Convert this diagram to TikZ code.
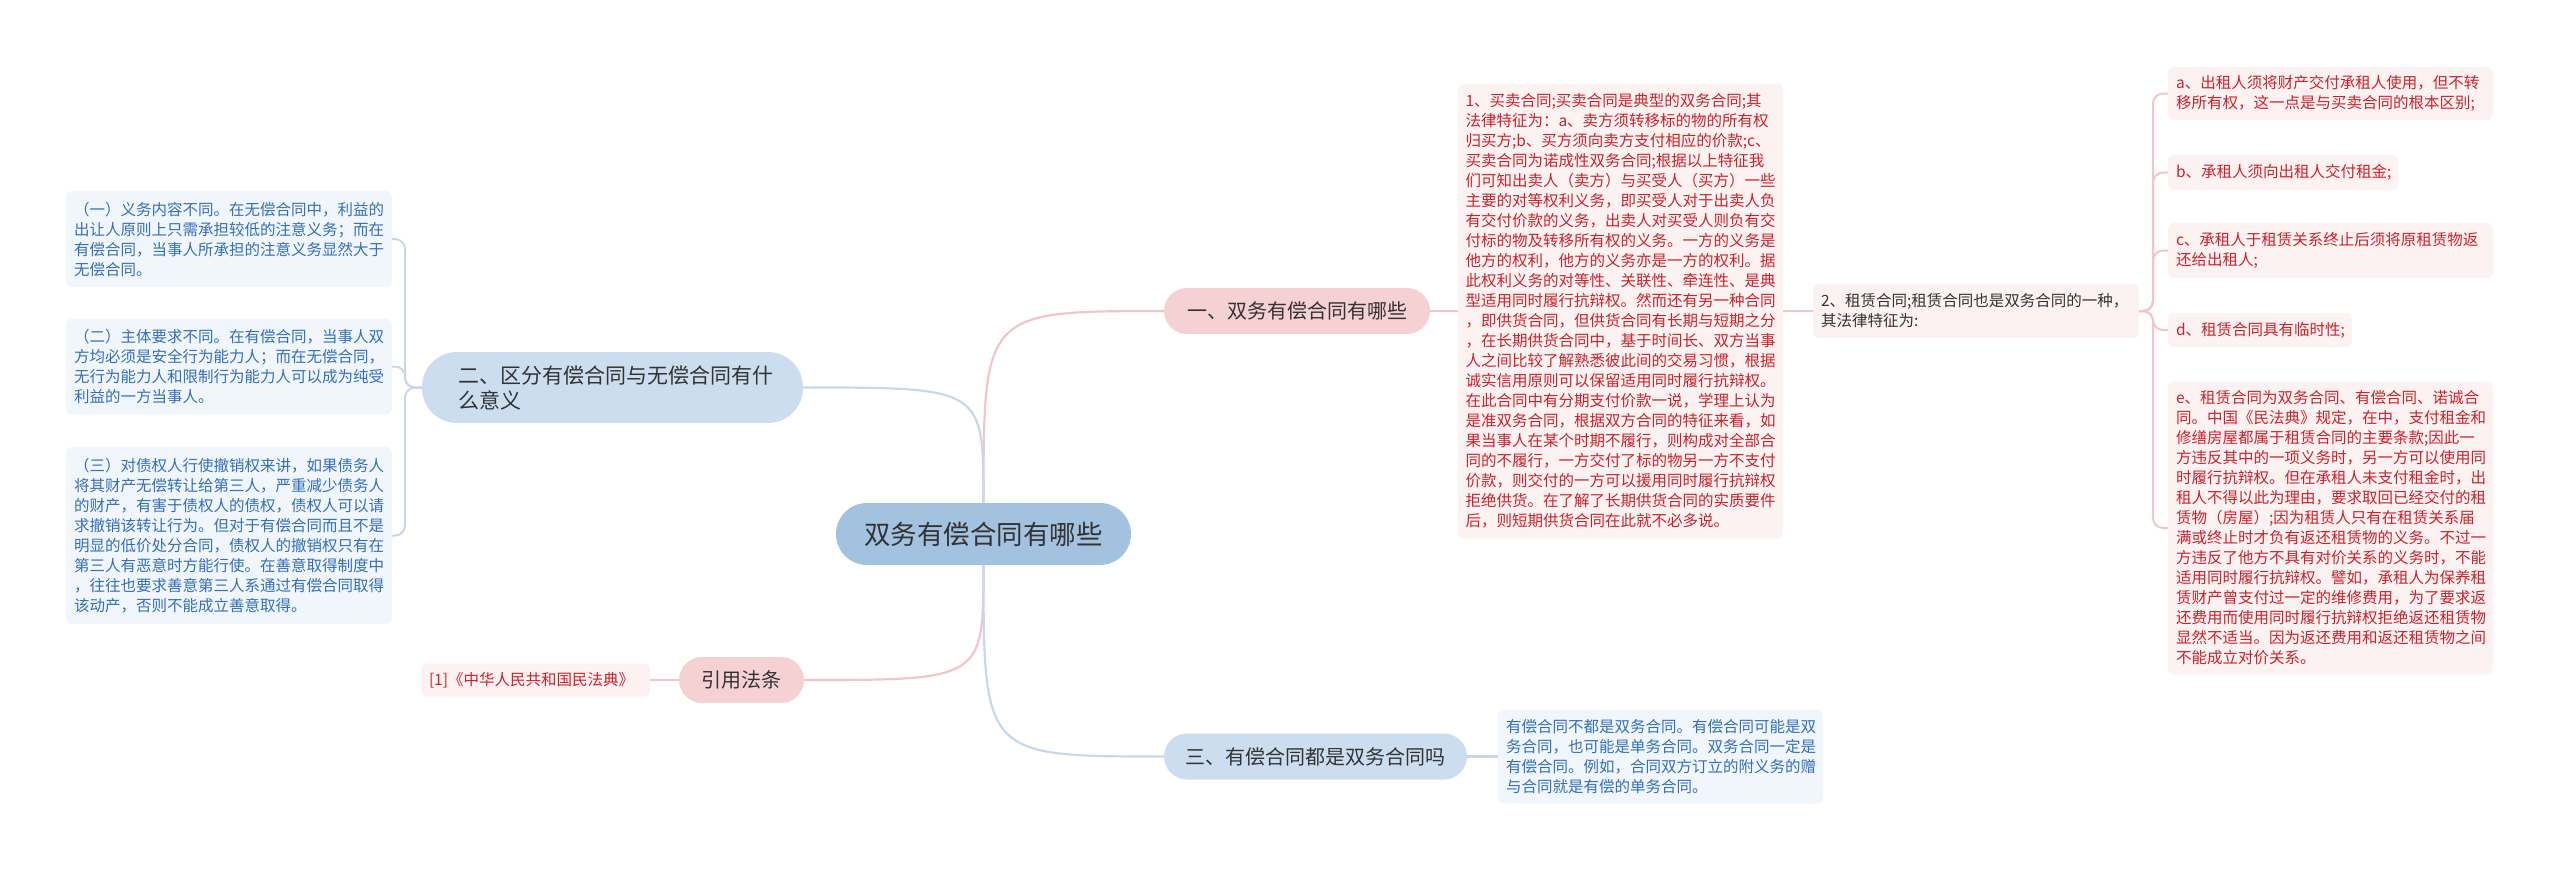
\documentclass[tikz,border=0pt]{standalone}
\usepackage{fontspec}
\setmainfont{Noto Sans CJK SC}
\usetikzlibrary{positioning}

\definecolor{rootBlue}{HTML}{A3C2E0}
\definecolor{topicBlue}{HTML}{CCDDF0}
\definecolor{topicPink}{HTML}{F6D1D3}
\definecolor{leafBlue}{HTML}{F1F6FC}
\definecolor{leafPink}{HTML}{FDF2F2}
\definecolor{textRed}{HTML}{C8232C}
\definecolor{textBlue}{HTML}{3370B8}
\definecolor{textDark}{HTML}{333333}
\definecolor{lineBlue}{HTML}{C7D8EA}
\definecolor{linePink}{HTML}{F2C6C9}

\begin{document}
\begin{tikzpicture}[
    x=1pt, y=-1pt,
    every node/.style={inner sep=0pt, outer sep=0pt},
    topic/.style={
        rounded corners=23pt,
        text=textDark,
        minimum height=46pt,
        font=\fontsize{20}{25}\selectfont
    },
    pinktopic/.style={topic, fill=topicPink},
    bluetopic/.style={topic, fill=topicBlue},
    leaf/.style={
        rounded corners=6pt,
        align=left,
        inner xsep=8pt,
        font=\fontsize{15.5}{20}\selectfont
    },
    redleaf/.style={leaf, fill=leafPink, text=textRed},
    blueleaf/.style={leaf, fill=leafBlue, text=textBlue},
    pinklink/.style={draw=linePink, line width=2.2pt},
    bluelink/.style={draw=lineBlue, line width=2.2pt},
    pinkbrace/.style={draw=linePink, line width=2pt, rounded corners=10pt},
    bluebrace/.style={draw=lineBlue, line width=2pt, rounded corners=10pt}
]
\useasboundingbox (0,0) rectangle (2560,871);

% ------------------------
% Central topic
% ------------------------
\node[fill=rootBlue, rounded corners=31pt, minimum width=295pt, minimum height=62pt,
      text=textDark, font=\fontsize{26.5}{30}\selectfont] (root) at (983.5,534) {双务有偿合同有哪些};

% ------------------------
% Main branches
% ------------------------
\node[pinktopic, minimum width=266pt] (one) at (1297,311) {一、双务有偿合同有哪些};

\node[bluetopic, minimum width=381pt, minimum height=71pt, rounded corners=35pt,
      text width=308pt, align=left, font=\fontsize{21}{25}\selectfont] (two) at (612.5,387.5)
{二、区分有偿合同与无偿合同有什\\么意义};

\node[pinktopic, minimum width=125pt] (law) at (741.5,680) {引用法条};

\node[bluetopic, minimum width=303pt] (three) at (1315.5,756.5) {三、有偿合同都是双务合同吗};

% ------------------------
% Branch one: sale and lease
% ------------------------
\node[redleaf, text width=310pt, inner xsep=7.5pt, minimum height=455pt, right=28pt of one] (sale) {
1、买卖合同;买卖合同是典型的双务合同;其\\
法律特征为：a、卖方须转移标的物的所有权\\
归买方;b、买方须向卖方支付相应的价款;c、\\
买卖合同为诺成性双务合同;根据以上特征我\\
们可知出卖人（卖方）与买受人（买方）一些\\
主要的对等权利义务，即买受人对于出卖人负\\
有交付价款的义务，出卖人对买受人则负有交\\
付标的物及转移所有权的义务。一方的义务是\\
他方的权利，他方的义务亦是一方的权利。据\\
此权利义务的对等性、关联性、牵连性、是典\\
型适用同时履行抗辩权。然而还有另一种合同\\
，即供货合同，但供货合同有长期与短期之分\\
，在长期供货合同中，基于时间长、双方当事\\
人之间比较了解熟悉彼此间的交易习惯，根据\\
诚实信用原则可以保留适用同时履行抗辩权。\\
在此合同中有分期支付价款一说，学理上认为\\
是准双务合同，根据双方合同的特征来看，如\\
果当事人在某个时期不履行，则构成对全部合\\
同的不履行，一方交付了标的物另一方不支付\\
价款，则交付的一方可以援用同时履行抗辩权\\
拒绝供货。在了解了长期供货合同的实质要件\\
后，则短期供货合同在此就不必多说。};

\node[leaf, fill=leafPink, text=textDark, text width=310pt, minimum height=54pt, right=30pt of sale] (lease) {
2、租赁合同;租赁合同也是双务合同的一种，\\
其法律特征为:};

\node[redleaf, text width=309pt, minimum height=53pt, anchor=west] (ra) at (2168,93.5) {
a、出租人须将财产交付承租人使用，但不转\\
移所有权，这一点是与买卖合同的根本区别;};

\node[redleaf, text width=214pt, minimum height=35pt, anchor=west] (rb) at (2168,172.5) {
b、承租人须向出租人交付租金;};

\node[redleaf, text width=309pt, minimum height=55pt, anchor=west] (rc) at (2168,250.5) {
c、承租人于租赁关系终止后须将原租赁物返\\
还给出租人;};

\node[redleaf, text width=168pt, minimum height=34pt, anchor=west] (rd) at (2168,330) {
d、租赁合同具有临时性;};

\node[redleaf, text width=309pt, minimum height=293pt, anchor=west] (re) at (2168,528) {
e、租赁合同为双务合同、有偿合同、诺诚合\\
同。中国《民法典》规定，在中，支付租金和\\
修缮房屋都属于租赁合同的主要条款;因此一\\
方违反其中的一项义务时，另一方可以使用同\\
时履行抗辩权。但在承租人未支付租金时，出\\
租人不得以此为理由，要求取回已经交付的租\\
赁物（房屋）;因为租赁人只有在租赁关系届\\
满或终止时才负有返还租赁物的义务。不过一\\
方违反了他方不具有对价关系的义务时，不能\\
适用同时履行抗辩权。譬如，承租人为保养租\\
赁财产曾支付过一定的维修费用，为了要求返\\
还费用而使用同时履行抗辩权拒绝返还租赁物\\
显然不适当。因为返还费用和返还租赁物之间\\
不能成立对价关系。};

% ------------------------
% Branch two: differences
% ------------------------
\node[blueleaf, text width=310pt, minimum height=96pt, anchor=east] (diff1) at (392,239) {
（一）义务内容不同。在无偿合同中，利益的\\
出让人原则上只需承担较低的注意义务；而在\\
有偿合同，当事人所承担的注意义务显然大于\\
无偿合同。};

\node[blueleaf, text width=310pt, minimum height=96pt, anchor=east] (diff2) at (392,366.5) {
（二）主体要求不同。在有偿合同，当事人双\\
方均必须是安全行为能力人；而在无偿合同，\\
无行为能力人和限制行为能力人可以成为纯受\\
利益的一方当事人。};

\node[blueleaf, text width=310pt, minimum height=177pt, anchor=east] (diff3) at (392,535.5) {
（三）对债权人行使撤销权来讲，如果债务人\\
将其财产无偿转让给第三人，严重减少债务人\\
的财产，有害于债权人的债权，债权人可以请\\
求撤销该转让行为。但对于有偿合同而且不是\\
明显的低价处分合同，债权人的撤销权只有在\\
第三人有恶意时方能行使。在善意取得制度中\\
，往往也要求善意第三人系通过有偿合同取得\\
该动产，否则不能成立善意取得。};

% ------------------------
% Law reference and branch three
% ------------------------
\node[redleaf, text width=213pt, minimum height=33pt, left=29pt of law] (ref) {[1]《中华人民共和国民法典》};

\node[blueleaf, text width=309pt, minimum height=94pt, right=31pt of three] (note) {
有偿合同不都是双务合同。有偿合同可能是双\\
务合同，也可能是单务合同。双务合同一定是\\
有偿合同。例如，合同双方订立的附义务的赠\\
与合同就是有偿的单务合同。};

% ------------------------
% Connectors
% ------------------------
\draw[pinklink] (root.north) .. controls (root.north |- one.west) .. (one.west);
\draw[bluelink] (root.north) .. controls (root.north |- two.east) .. (two.east);
\draw[pinklink] (root.south) .. controls (root.south |- law.east) .. (law.east);
\draw[bluelink] (root.south) .. controls (root.south |- three.west) .. (three.west);

\draw[pinklink] (one.east) -- (sale.west);
\draw[pinklink] (sale.east) -- (lease.west);
\foreach \leafname in {ra,rb,rc,rd,re}
    \draw[pinkbrace] (lease.east) -- ++(14,0) |- (\leafname.west);

\foreach \leafname in {diff1,diff2,diff3}
    \draw[bluebrace] (two.west) -- ++(-17,0) |- (\leafname.east);

\draw[pinklink] (law.west) -- (ref.east);
\draw[bluelink] (three.east) -- (note.west);

\end{tikzpicture}
\end{document}
